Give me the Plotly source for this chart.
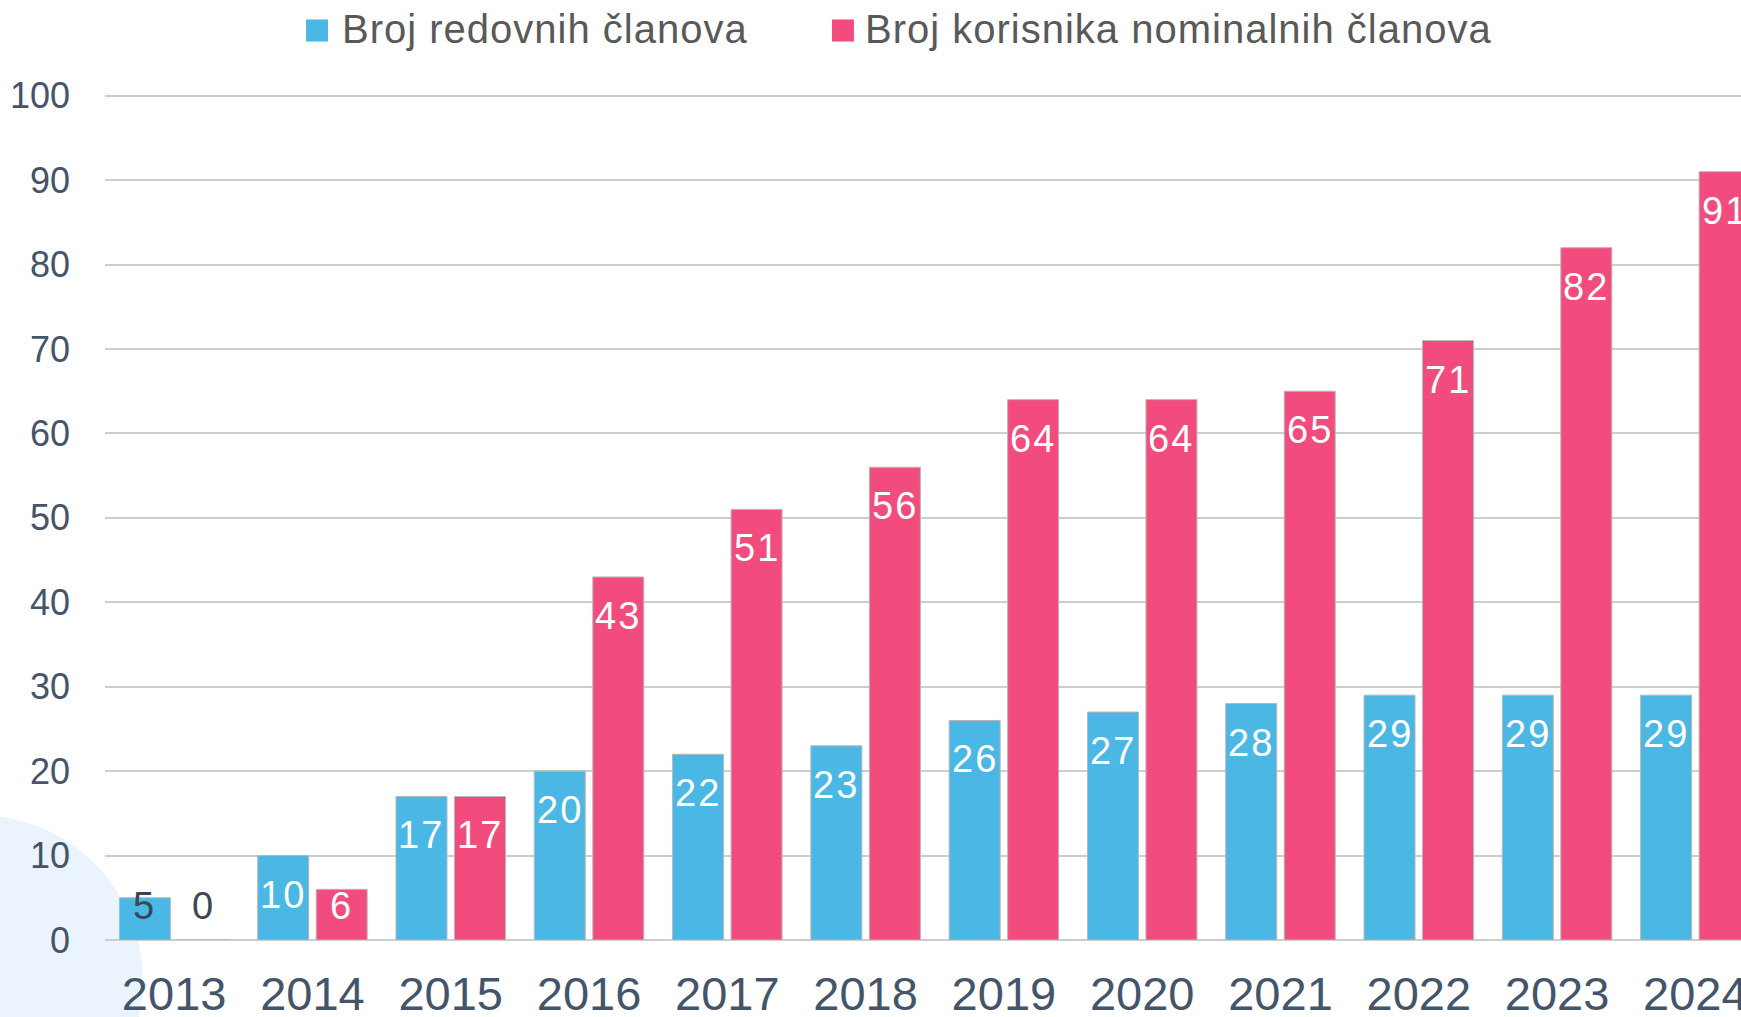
import plotly.graph_objects as go

# ---- data ----
years = ["2013", "2014", "2015", "2016", "2017", "2018",
         "2019", "2020", "2021", "2022", "2023", "2024"]
redovni = [5, 10, 17, 20, 22, 23, 26, 27, 28, 29, 29, 29]
nominalni = [0, 6, 17, 43, 51, 56, 64, 64, 65, 71, 82, 91]
series_names = ["Broj redovnih članova", "Broj korisnika nominalnih članova"]
y_ticks = [0, 10, 20, 30, 40, 50, 60, 70, 80, 90, 100]

# ---- style ----
BLUE = "#4BB7E5"
PINK = "#F24B7E"
OUTLINE = "#B8B8B8"
GRID = "#CDCDCD"
TICK_COLOR = "#44546A"
LEGEND_COLOR = "#595959"
FONT = "Liberation Sans, Arial, sans-serif"
BARGAP = 0.154
BARGROUPGAP = 0.128
OFFSET = (1 - BARGAP) / 4  # centre offset of each bar inside its group
LOW = 8  # below this value the label sits at a fixed height near the axis
COLORS = [BLUE, PINK]

fig = go.Figure()
for name, vals, col in [(series_names[0], redovni, BLUE),
                        (series_names[1], nominalni, PINK)]:
    fig.add_trace(go.Bar(
        x=years, y=vals, name=name, showlegend=False,
        marker=dict(color=col, line=dict(color=OUTLINE, width=1)),
        hovertemplate="%{x}: %{y}<extra></extra>",
    ))

# value labels
annotations = []
for sign, vals in [(-1, redovni), (1, nominalni)]:
    for i, v in enumerate(vals):
        txt = '<span style="letter-spacing:2px">%d</span>' % v
        if v >= LOW:
            annotations.append(dict(
                x=i + sign * OFFSET, y=v, xref="x", yref="y", text=txt,
                showarrow=False, yanchor="top", yshift=-16,
                font=dict(family=FONT, size=38, color="white")))
        else:
            col = "white" if v >= 6 else "#3B4656"
            annotations.append(dict(
                x=i + sign * OFFSET, y=0, xref="x", yref="y", text=txt,
                showarrow=False, yanchor="bottom", yshift=11,
                font=dict(family=FONT, size=38, color=col)))

# legend drawn as squares + texts above the plot (paper coordinates)
legend_sq_x = [0.1229, 0.4444]
legend_txt_x = [0.1443, 0.4639]
shapes = [dict(
    type="circle", xref="paper", yref="paper",
    x0=-0.1785, x1=0.0232, y0=-0.2425, y1=0.1478,
    fillcolor="#EBF3FC", line=dict(width=0), layer="below")]
for k in range(2):
    shapes.append(dict(
        type="rect", xref="paper", yref="paper",
        x0=legend_sq_x[k], x1=legend_sq_x[k] + 0.0134,
        y0=1.0620, y1=1.0881,
        fillcolor=COLORS[k], line=dict(width=0)))
    annotations.append(dict(
        x=legend_txt_x[k], y=1.0765, xref="paper", yref="paper",
        text='<span style="letter-spacing:1px">' + series_names[k] + '</span>',
        showarrow=False, xanchor="left", yanchor="middle", borderpad=0,
        font=dict(family=FONT, size=40, color=LEGEND_COLOR)))

fig.update_layout(
    width=1741, height=1017,
    margin=dict(l=105, r=0, t=94, b=77),
    paper_bgcolor="white",
    plot_bgcolor="rgba(0,0,0,0)",
    barmode="group",
    bargap=BARGAP,
    bargroupgap=BARGROUPGAP,
    annotations=annotations,
    shapes=shapes,
    showlegend=False,
    xaxis=dict(
        type="category",
        range=[-0.5, 11.33],
        showgrid=False, showline=False, zeroline=False,
        ticks="", ticklabelstandoff=22,
        tickfont=dict(family=FONT, size=47, color=TICK_COLOR),
        automargin=False, fixedrange=True,
    ),
    yaxis=dict(
        range=[0, 100.2],
        tickvals=y_ticks,
        showgrid=True, gridcolor=GRID, gridwidth=2,
        zeroline=True, zerolinecolor=GRID, zerolinewidth=2,
        showline=False, ticks="", ticklabelstandoff=34,
        tickfont=dict(family=FONT, size=36, color=TICK_COLOR),
        automargin=False, fixedrange=True,
    ),
)

fig.write_html("out.html")
